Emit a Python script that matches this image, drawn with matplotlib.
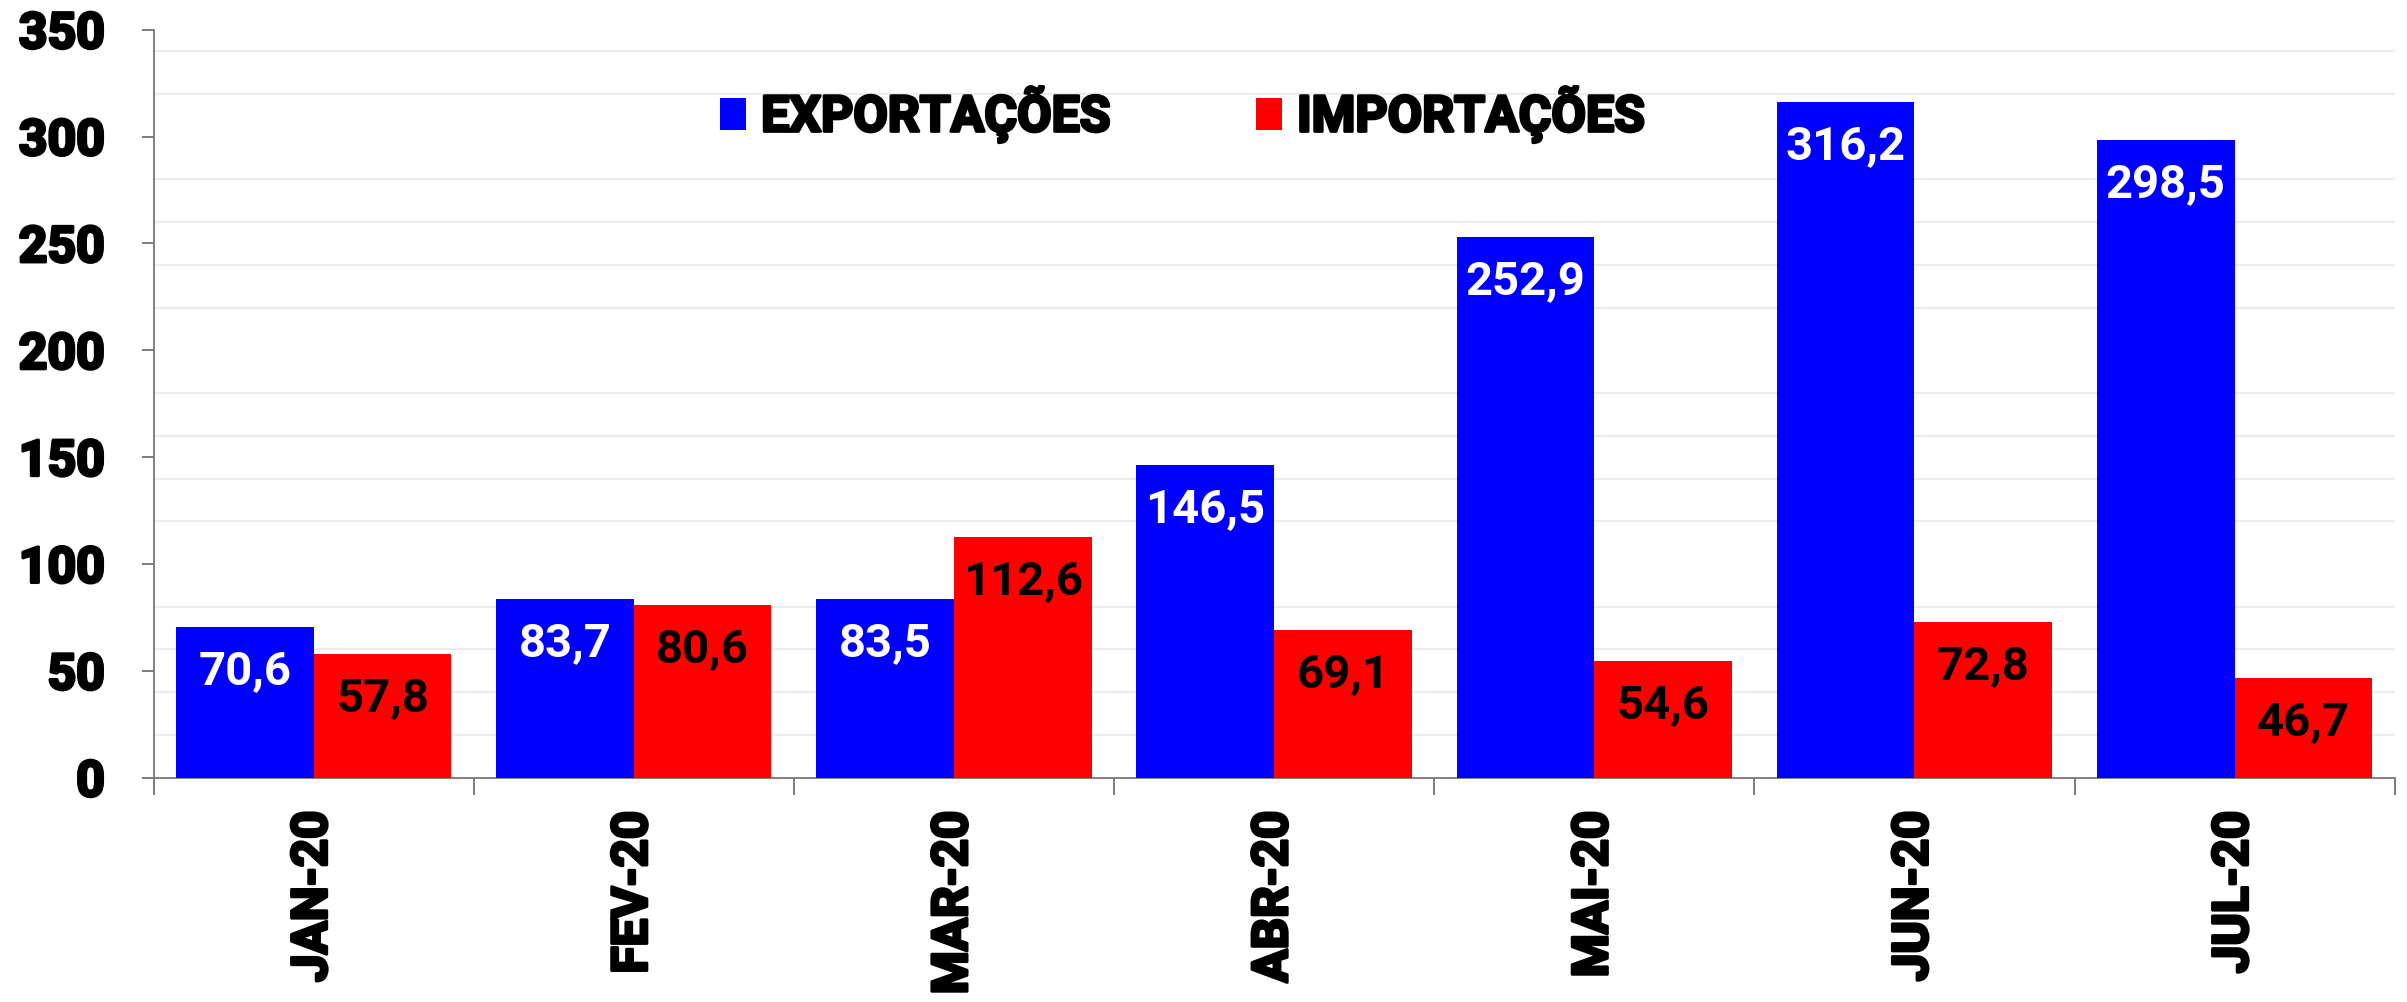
import matplotlib
matplotlib.use("Agg")
import matplotlib.pyplot as plt
import matplotlib.patheffects as pe
import numpy as np
from matplotlib.patches import Rectangle, Patch
from matplotlib.ticker import MultipleLocator, FixedLocator

months = ["JAN-20", "FEV-20", "MAR-20", "ABR-20", "MAI-20", "JUN-20", "JUL-20"]
exportacoes = [70.6, 83.7, 83.5, 146.5, 252.9, 316.2, 298.5]
importacoes = [57.8, 80.6, 112.6, 69.1, 54.6, 72.8, 46.7]
series_names = ["EXPORTAÇÕES", "IMPORTAÇÕES"]

BLUE = "#0000FF"
RED = "#FF0000"
FONT = "Roboto"
heavy = [pe.withStroke(linewidth=2.2, foreground="black")]

fig = plt.figure(figsize=(24.07, 10.03), dpi=100)
ax = fig.add_axes([0.0638, 0.2236, 0.9311, 0.7458])

x = np.arange(len(months))
w = 0.43
ax.bar(x - w / 2, exportacoes, width=w, color=BLUE, zorder=3)
ax.bar(x + w / 2, importacoes, width=w, color=RED, zorder=3)

fmt = lambda v: f"{v:.1f}".replace(".", ",")
for xi, v in zip(x, exportacoes):
    ax.annotate(fmt(v), (xi - w / 2, v), xytext=(0, -31), textcoords="offset points",
                ha="center", va="center", color="white", fontsize=34,
                fontfamily=FONT, fontweight="bold", zorder=4)
for xi, v in zip(x, importacoes):
    ax.annotate(fmt(v), (xi + w / 2, v), xytext=(0, -31), textcoords="offset points",
                ha="center", va="center", color="black", fontsize=34,
                fontfamily=FONT, fontweight="bold", zorder=4)

ax.set_xlim(-0.5, len(months) - 0.5)
ax.set_ylim(0, 350)

# gridlines every 20, ticks every 50
ax.yaxis.set_major_locator(MultipleLocator(50))
ax.yaxis.set_minor_locator(MultipleLocator(20))
ax.grid(which="minor", axis="y", color="#ececec", linewidth=1.6, zorder=0)
ax.grid(which="major", axis="y", visible=False)
ax.tick_params(axis="y", which="minor", length=0)
ax.tick_params(axis="y", which="major", length=9, width=1.2, color="#666666",
               pad=26, labelsize=36)

ax.set_xticks(x)
ax.set_xticklabels(months, rotation=90, fontsize=35.5, fontfamily=FONT,
                   fontweight="bold")
ax.tick_params(axis="x", which="major", length=0, pad=24)
ax.xaxis.set_minor_locator(FixedLocator(np.arange(-0.5, len(months), 1.0)))
ax.tick_params(axis="x", which="minor", length=12, width=1.2, color="#666666")

for lbl in ax.get_xticklabels():
    lbl.set_path_effects(heavy)
for lbl in ax.get_yticklabels():
    lbl.set_fontfamily(FONT)
    lbl.set_fontweight("bold")
    lbl.set_path_effects(heavy)

for s in ["top", "right"]:
    ax.spines[s].set_visible(False)
for s in ["left", "bottom"]:
    ax.spines[s].set_color("#777777")
    ax.spines[s].set_linewidth(1.3)

# white legend area
ax.add_patch(Rectangle((0.192, 0.835), 0.531, 0.115, transform=ax.transAxes,
                       facecolor="white", edgecolor="none", zorder=1))
handles = [Patch(facecolor=BLUE), Patch(facecolor=RED)]
leg = ax.legend(handles, series_names, loc="center", bbox_to_anchor=(0.459, 0.887),
                ncol=2, frameon=False, handlelength=0.53, handleheight=0.6,
                handletextpad=0.3, columnspacing=2.9,
                prop={"family": FONT, "weight": "bold", "size": 36})
for t in leg.get_texts():
    t.set_path_effects(heavy)

fig.savefig("out.png", dpi=100, facecolor="white")
